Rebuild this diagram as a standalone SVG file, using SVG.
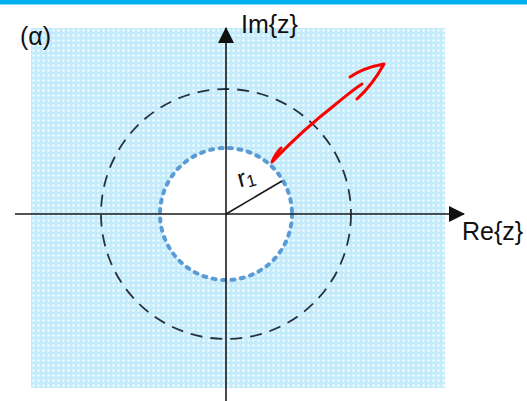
<svg xmlns="http://www.w3.org/2000/svg" width="527" height="401" viewBox="0 0 527 401">
  <defs>
    <pattern id="dots" x="31" y="28" width="5" height="5" patternUnits="userSpaceOnUse">
      <rect width="5" height="5" fill="#c3ebfb"/>
      <rect x="1.5" y="1.5" width="2" height="2" fill="#ffffff"/>
    </pattern>
    <marker id="ah" viewBox="0 0 16 16" refX="15" refY="8" markerWidth="16" markerHeight="16" markerUnits="userSpaceOnUse" orient="auto">
      <path d="M0,0 L16,8 L0,16 Z" fill="#111"/>
    </marker>
  </defs>
  <style>
    .lbl { font-family: "Liberation Sans", Arial, sans-serif; fill: #111111; }
    .axis { stroke: #1a1a1a; stroke-width: 1.6; fill: none; }
    .red { stroke: #ff0000; stroke-width: 3; fill: none; stroke-linecap: round; stroke-linejoin: round; }
  </style>
  <rect x="0" y="0" width="527" height="401" fill="#ffffff"/>
  <rect x="0" y="0" width="527" height="4.5" fill="#00b0f0"/>

  <g id="region">
    <rect x="31" y="28" width="414" height="360" fill="url(#dots)"/>
    <circle cx="226" cy="214" r="66" fill="#ffffff"/>
  </g>

  <g id="outer-circle">
    <circle cx="226" cy="214" r="125" fill="none" stroke="#26323b" stroke-width="1.8" stroke-dasharray="12 8"/>
  </g>

  <g id="inner-circle">
    <circle cx="226" cy="214" r="66" fill="none" stroke="#5b9bd5" stroke-width="4" stroke-linecap="round" stroke-dasharray="3 6.5"/>
  </g>

  <g id="connectors">
    <line class="axis" x1="226" y1="401" x2="226" y2="28" marker-end="url(#ah)"/>
    <line class="axis" x1="15" y1="214" x2="464" y2="214" marker-end="url(#ah)"/>
    <line x1="226" y1="214" x2="282" y2="181" stroke="#1a1a1a" stroke-width="1.6"/>
  </g>

  <g id="radius-label">
    <text class="lbl" x="238" y="186" font-size="25" transform="rotate(-15 245 180)">r<tspan font-size="17" dy="2">1</tspan></text>
  </g>

  <g id="red-arrow">
    <path class="red" d="M281,148 C277,152 274,157 272,162 C292,141 318,118 336,104 C346,96 354,89 362,84"/>
    <path class="red" d="M350,77 C360,70 373,66 384,64 C378,75 368,89 357,99"/>
  </g>

  <g id="labels">
    <text class="lbl" x="20" y="45" font-size="25">(α)</text>
    <text class="lbl" x="241" y="33" font-size="25">Im{z}</text>
    <text class="lbl" x="462" y="240" font-size="25">Re{z}</text>
  </g>
</svg>
